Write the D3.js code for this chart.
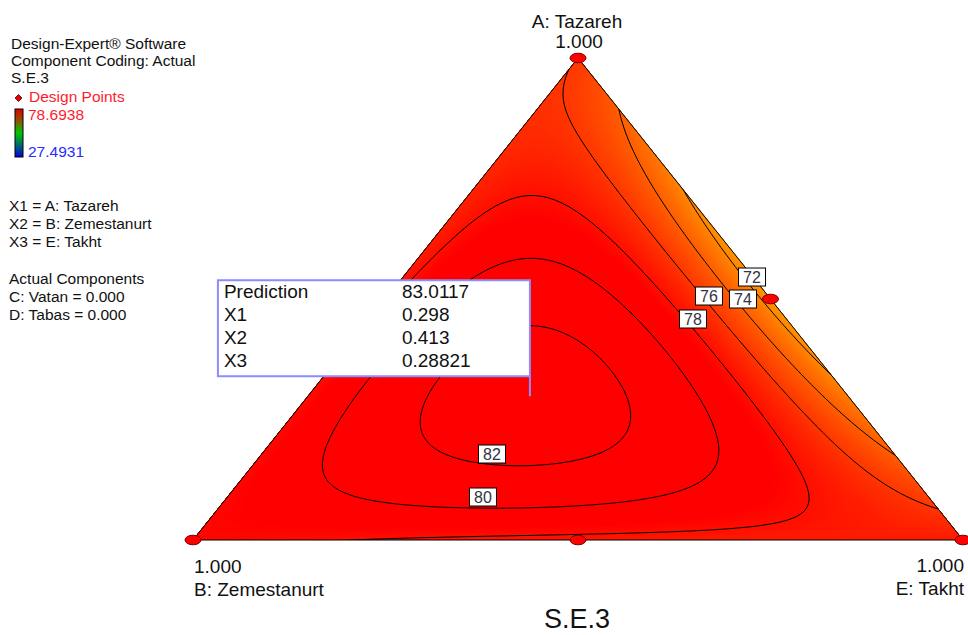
<!DOCTYPE html>
<html><head><meta charset="utf-8">
<script src="https://cdn.jsdelivr.net/npm/d3@7"></script>
<style>
body{margin:0;background:#fff}
svg{display:block}
text{font-family:"Liberation Sans",Arial,sans-serif}
</style>
</head><body>
<svg id="chart" width="968" height="635"></svg>
<script>
// ---------------- data ----------------
const componentLabels = ["A: Tazareh", "B: Zemestanurt", "E: Takht"];
const vertexValueLabels = ["1.000", "1.000", "1.000"];
// Special-cubic mixture model estimated from the contours: A, B, E
const linearCoefs = [75.9, 78.5, 77.4];
const binaryPairs = [[0, 1], [0, 2], [1, 2]];
const binaryCoefs = [1.69, -21.7, -1.67];    // AB, AE, BE
const ternaryCoef = 210;                     // ABE
const contourLevels = [72, 74, 76, 78, 80, 82];
// contour label anchors as compositions (A, B, E)
const labelPoints = [
  [0.5456, 0.0012, 0.4532],
  [0.5000, 0.0357, 0.4643],
  [0.5062, 0.0768, 0.4170],
  [0.4585, 0.1214, 0.4201],
  [0.0892, 0.5788, 0.3320],
  [0.1784, 0.5225, 0.2991]
];
const designPoints = [[1, 0, 0], [0, 1, 0], [0, 0, 1], [0, 0.5, 0.5], [0.5, 0, 0.5]];
const colorRange = [27.4931, 78.6938];
const legendHeader = ["Design-Expert\u00AE Software", "Component Coding: Actual", "S.E.3"];
const legendFactors = ["X1 = A: Tazareh", "X2 = B: Zemestanurt", "X3 = E: Takht"];
const legendActual = ["Actual Components", "C: Vatan = 0.000", "D: Tabas = 0.000"];
const predictionRows = [["Prediction", "83.0117"], ["X1", "0.298"], ["X2", "0.413"], ["X3", "0.28821"]];
const predictionPoint = [0.298, 0.413, 0.28821];
const chartTitle = "S.E.3";

// ---------------- layout ----------------
const svg = d3.select("#chart");
const L = 193, R = 963, T = 58, B = 540;
const sx = d3.scaleLinear().domain([0, 1]).range([L, R]);
const sy = d3.scaleLinear().domain([0, 1]).range([B, T]);
function norm(p) { const s = p[0] + p[1] + p[2]; return p.map(v => v / s); }
function proj(p) { const q = norm(p); return [sx(q[2] + q[0] / 2), sy(q[0])]; }
function compAt(px, py) {
  const a = sy.invert(py);
  const e = sx.invert(px) - a / 2;
  return [a, 1 - a - e, e];
}
function model(x) {
  let v = 0;
  linearCoefs.forEach((c, i) => v += c * x[i]);
  binaryPairs.forEach((pr, k) => v += binaryCoefs[k] * x[pr[0]] * x[pr[1]]);
  v += ternaryCoef * x[0] * x[1] * x[2];
  return v;
}
const color = d3.scaleLinear()
  .domain([colorRange[0], (colorRange[0] + colorRange[1]) / 2,
           colorRange[0] + 0.75 * (colorRange[1] - colorRange[0]), colorRange[1]])
  .range(["#0000ff", "#00ff00", "#ffff00", "#ff0000"])
  .clamp(true);

// grid
const step = 2, x0 = L - 6, y0 = T - 6;
const nx = Math.ceil((R + 6 - x0) / step) + 1;
const ny = Math.ceil((B + 6 - y0) / step) + 1;
const values = new Float64Array(nx * ny);
for (let j = 0; j < ny; j++) for (let i = 0; i < nx; i++) {
  values[j * nx + i] = model(compAt(x0 + i * step, y0 + j * step));
}
const gridPath = d3.geoPath(d3.geoTransform({
  point(x, y) { this.stream.point(x0 + (x - 0.5) * step, y0 + (y - 0.5) * step); }
}));

const triPts = designPoints.slice(0, 3).map(proj);
const defs = svg.append("defs");
defs.append("clipPath").attr("id", "tri").append("polygon")
  .attr("points", triPts.map(p => p.join(",")).join(" "));

// filled surface
const gFill = svg.append("g").attr("clip-path", "url(#tri)");
gFill.append("polygon").attr("points", triPts.map(p => p.join(",")).join(" "))
  .attr("fill", color(70));
const fillThresholds = d3.range(70, 84.01, 0.1);
const fills = d3.contours().size([nx, ny]).thresholds(fillThresholds)(values);
gFill.selectAll("path.f").data(fills).join("path")
  .attr("d", gridPath).attr("fill", d => color(d.value + 0.05)).attr("stroke", "none");

// contour lines
const lines = d3.contours().size([nx, ny]).thresholds(contourLevels)(values);
gFill.selectAll("path.c").data(lines).join("path")
  .attr("d", gridPath).attr("fill", "none").attr("stroke", "#000").attr("stroke-width", 1);

// triangle outline
svg.append("polygon").attr("points", triPts.map(p => p.join(",")).join(" "))
  .attr("fill", "none").attr("stroke", "#000").attr("stroke-width", 1);

// contour labels
const gLab = svg.append("g");
contourLevels.forEach((lv, k) => {
  const p = proj(labelPoints[k]);
  gLab.append("rect").attr("x", p[0] - 13.5).attr("y", p[1] - 9).attr("width", 27).attr("height", 18)
    .attr("fill", "#fff").attr("stroke", "#000").attr("stroke-width", 1);
  gLab.append("text").attr("x", p[0]).attr("y", p[1] + 6).attr("text-anchor", "middle")
    .attr("font-size", 16).attr("fill", "#333344").text(lv);
});

// design points
svg.append("g").selectAll("ellipse").data(designPoints).join("ellipse")
  .attr("cx", d => proj(d)[0]).attr("cy", d => proj(d)[1])
  .attr("rx", 8).attr("ry", 4.8)
  .attr("fill", "#ff0000").attr("stroke", "#7a0000").attr("stroke-width", 1);

// prediction box
const pp = proj(predictionPoint);
const boxW = 312, boxH = 96, boxR = pp[0], boxB = pp[1] - 20;
const gBox = svg.append("g");
gBox.append("rect").attr("x", boxR - boxW).attr("y", boxB - boxH).attr("width", boxW).attr("height", boxH)
  .attr("fill", "#fff").attr("stroke", "#8c8cff").attr("stroke-width", 2);
gBox.append("line").attr("x1", boxR).attr("x2", boxR).attr("y1", boxB).attr("y2", pp[1])
  .attr("stroke", "#8c8cff").attr("stroke-width", 2);
predictionRows.forEach((r, i) => {
  const y = boxB - boxH + 18 + i * 23;
  gBox.append("text").attr("x", boxR - boxW + 6).attr("y", y).attr("font-size", 19).attr("fill", "#111").text(r[0]);
  gBox.append("text").attr("x", boxR - boxW + 184).attr("y", y).attr("font-size", 19).attr("fill", "#111").text(r[1]);
});

// axis / vertex labels
const ax = svg.append("g").attr("font-size", 19).attr("fill", "#111");
ax.append("text").attr("x", triPts[0][0] - 1).attr("y", 28).attr("text-anchor", "middle").text(componentLabels[0]);
ax.append("text").attr("x", triPts[0][0] + 1).attr("y", 48).attr("text-anchor", "middle").text(vertexValueLabels[0]);
ax.append("text").attr("x", triPts[1][0] + 1).attr("y", 573).attr("text-anchor", "start").text(vertexValueLabels[1]);
ax.append("text").attr("x", triPts[1][0] + 1).attr("y", 596).attr("text-anchor", "start").text(componentLabels[1]);
ax.append("text").attr("x", triPts[2][0] + 1).attr("y", 572).attr("text-anchor", "end").text(vertexValueLabels[2]);
ax.append("text").attr("x", triPts[2][0] + 1).attr("y", 595).attr("text-anchor", "end").text(componentLabels[2]);
svg.append("text").attr("x", 577).attr("y", 628).attr("text-anchor", "middle")
  .attr("font-size", 27).attr("fill", "#111").text(chartTitle);

// legend
const lg = svg.append("g").attr("font-size", 15.5).attr("fill", "#111");
legendHeader.forEach((t, i) => lg.append("text").attr("x", 11).attr("y", 49 + i * 17).text(t));
lg.append("polygon").attr("points", "18.5,94.5 22,98 18.5,101.5 15,98")
  .attr("fill", "#e00000").attr("stroke", "#500").attr("stroke-width", 0.8);
lg.append("text").attr("x", 29).attr("y", 102).attr("fill", "#ff1a30").text("Design Points");
const grad = defs.append("linearGradient").attr("id", "cbar").attr("x1", 0).attr("y1", 0).attr("x2", 0).attr("y2", 1);
[[0, "#e00000"], [0.22, "#9a4a00"], [0.5, "#00c800"], [0.75, "#006a6a"], [1, "#0000e0"]]
  .forEach(s => grad.append("stop").attr("offset", s[0]).attr("stop-color", s[1]));
lg.append("rect").attr("x", 15).attr("y", 109).attr("width", 8).attr("height", 48)
  .attr("fill", "url(#cbar)").attr("stroke", "#000").attr("stroke-width", 1);
lg.append("text").attr("x", 28).attr("y", 120).attr("fill", "#ff1a30").text(colorRange[1].toFixed(4));
lg.append("text").attr("x", 28).attr("y", 157).attr("fill", "#2a2aff").text(colorRange[0].toFixed(4));
legendFactors.forEach((t, i) => lg.append("text").attr("x", 9).attr("y", 211 + i * 18).text(t));
legendActual.forEach((t, i) => lg.append("text").attr("x", 9).attr("y", 284 + i * 18).text(t));
</script>
</body></html>
